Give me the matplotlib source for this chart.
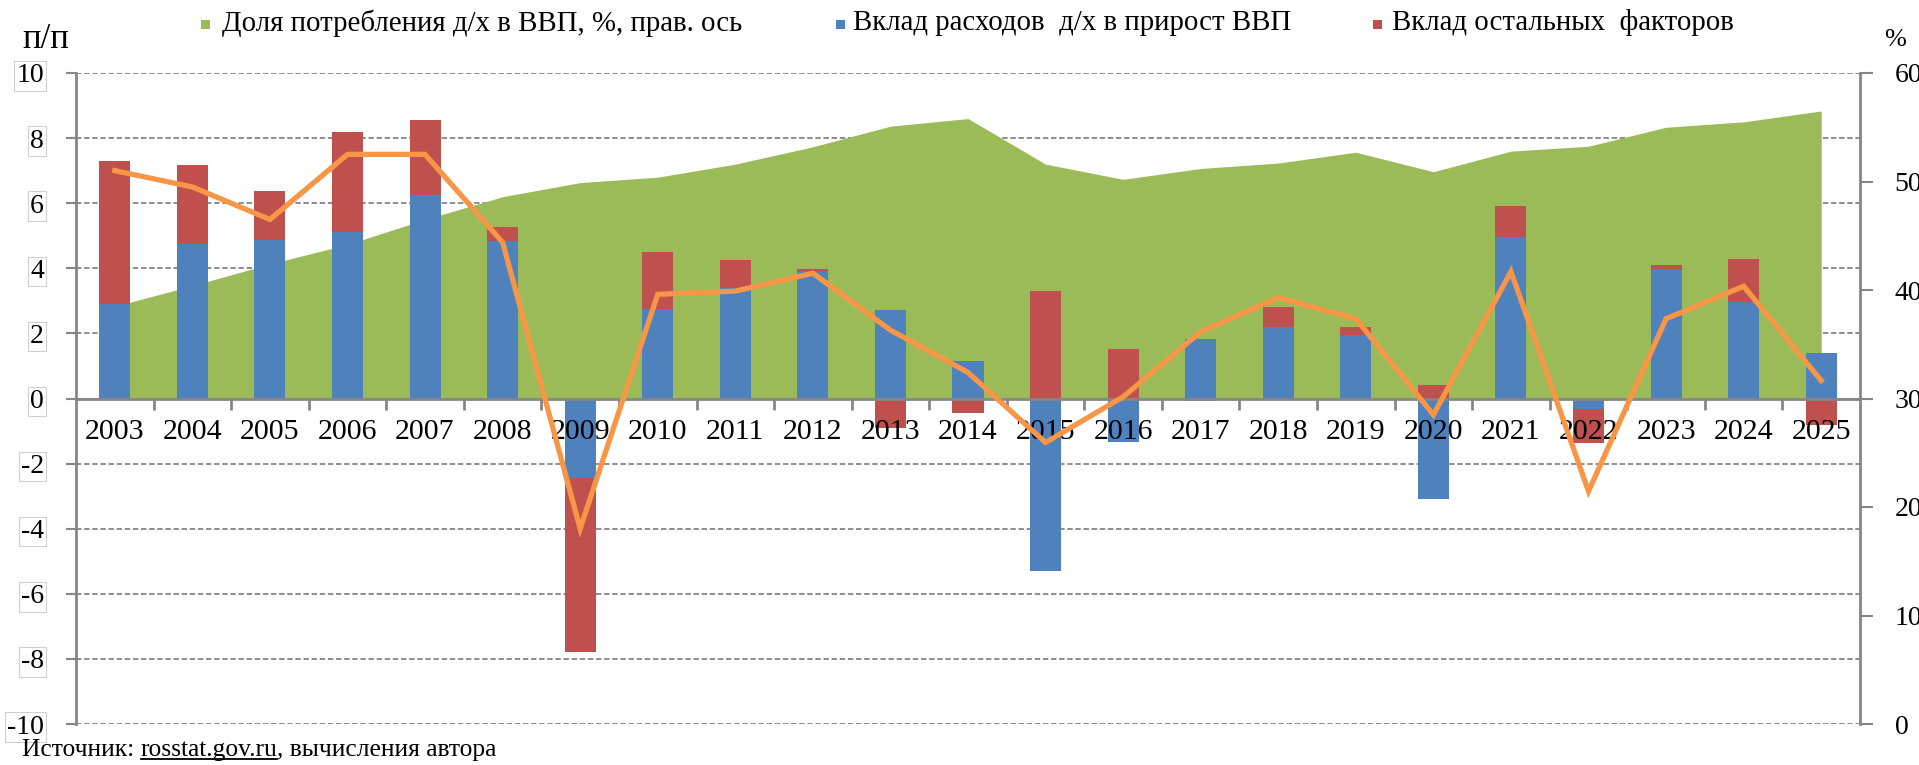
import matplotlib
matplotlib.use('Agg')
import matplotlib.pyplot as plt
import numpy as np
from matplotlib.patches import Rectangle
from matplotlib.transforms import blended_transform_factory
from matplotlib.lines import Line2D

# ---------------- data ----------------
years = [str(y) for y in range(2003, 2026)]
hh_share = [38.5, 40.4, 42.4, 44.2, 46.5, 48.6, 49.9, 50.4, 51.6, 53.2, 55.1, 55.8,
            51.6, 50.2, 51.2, 51.7, 52.7, 50.9, 52.8, 53.25, 55.0, 55.5, 56.5]
hh_contrib = [2.9, 4.75, 4.88, 5.13, 6.25, 4.85, -2.45, 2.74, 3.41, 3.93, 2.71, 1.15,
              -5.3, -1.35, 1.84, 2.2, 1.96, -3.1, 4.97, -0.32, 3.99, 2.97, 1.4]
other_contrib = [4.4, 2.43, 1.5, 3.05, 2.31, 0.43, -5.35, 1.76, 0.86, 0.06, -0.9, -0.45,
                 3.31, 1.53, -0.08, 0.6, 0.24, 0.41, 0.93, -1.06, 0.12, 1.33, -0.8]
line_vals = [7.0, 6.5, 5.5, 7.5, 7.5, 4.8, -4.0, 3.2, 3.3, 3.85, 2.1, 0.8,
             -1.35, 0.05, 2.05, 3.1, 2.45, -0.5, 3.9, -2.85, 2.45, 3.45, 0.55]

legend_labels = ['Доля потребления д/х в ВВП, %, прав. ось',
                 'Вклад расходов  д/х в прирост ВВП',
                 'Вклад остальных  факторов']

GREEN = '#9BBB59'
BLUE = '#4F81BD'
RED = '#C0504D'
ORANGE = '#F79646'
GRAY = '#868686'

plt.rcParams['font.family'] = ['Liberation Serif', 'DejaVu Serif']
plt.rcParams['axes.unicode_minus'] = False

W, H = 1919, 765
fig = plt.figure(figsize=(W / 100, H / 100), dpi=100)
ax = fig.add_axes([76 / W, 1 - 724 / H, (1860 - 76) / W, (724 - 73) / H])
ax2 = ax.twinx()

x = np.arange(len(years))
ax.set_xlim(-0.5, len(years) - 0.5)
ax.set_ylim(-10, 10)
ax2.set_ylim(0, 60)

# gridlines (behind everything)
ax.set_axisbelow(True)
ax.set_yticks(np.arange(-10, 11, 2))
ax.yaxis.grid(True, color=GRAY, linestyle=(0, (3, 1.5)), linewidth=1.3)
ax.xaxis.grid(False)

# area on the secondary scale, drawn in the primary axes so bars stay on top
trans = blended_transform_factory(ax.transData, ax2.transData)
ax.fill_between(x, 30, hh_share, transform=trans, color=GREEN, linewidth=0, zorder=1)

# stacked bars
blue = np.array(hh_contrib)
red = np.array(other_contrib)
red_bottom = np.where(np.sign(red) == np.sign(blue), blue, 0)
bw = 0.4
ax.bar(x, blue, width=bw, color=BLUE, zorder=2)
ax.bar(x, red, width=bw, bottom=red_bottom, color=RED, zorder=2)

# line
ax.plot(x, line_vals, color=ORANGE, linewidth=3.8, zorder=4, solid_joinstyle='miter')

# spines
for s in ['top', 'right', 'left', 'bottom']:
    ax.spines[s].set_visible(False)
ax.spines['left'].set_visible(True)
ax.spines['left'].set_color(GRAY)
ax.spines['left'].set_linewidth(2)
ax.spines['bottom'].set_visible(True)
ax.spines['bottom'].set_position(('data', 0))
ax.spines['bottom'].set_color(GRAY)
ax.spines['bottom'].set_linewidth(2)
ax.spines['bottom'].set_zorder(3)

for s in ['top', 'left', 'bottom']:
    ax2.spines[s].set_visible(False)
ax2.spines['right'].set_color(GRAY)
ax2.spines['right'].set_linewidth(2)

# x ticks
ax.set_xticks(x)
ax.set_xticklabels(years)
ax.set_xticks(np.arange(0.5, len(years) - 1, 1), minor=True)
ax.tick_params(axis='x', which='major', length=0, pad=15, labelsize=21.5)
ax.tick_params(axis='x', which='minor', length=8, width=2, color=GRAY, direction='out')
ax.xaxis.set_zorder(3)

# y ticks
ax.tick_params(axis='y', length=7, width=1.5, color=GRAY, labelsize=20, pad=16)
for lbl in ax.get_yticklabels():
    lbl.set_bbox(dict(boxstyle='square,pad=0.08', fc='none', ec='#d0d0d0', lw=0.8))
ax2.set_yticks(np.arange(0, 61, 10))
ax2.tick_params(axis='y', length=9, width=1.5, color=GRAY, labelsize=20, pad=16)

# axis unit labels
fig.text(22 / W, 1 - 40 / H, 'п/п', fontsize=25, ha='left', va='center')
fig.text(1884 / W, 1 - 40 / H, '%', fontsize=19, ha='left', va='center')

# legend (manually placed entries)
leg_square_x = [201, 836, 1373]
leg_text_x = [222, 853, 1392]
leg_y = 23
sq = 9
for c, lab, sx, tx in zip((GREEN, BLUE, RED), legend_labels, leg_square_x, leg_text_x):
    fig.add_artist(Rectangle((sx / W, 1 - (leg_y + sq / 2 + 1) / H), sq / W, sq / H,
                             facecolor=c, edgecolor='none', transform=fig.transFigure))
    fig.text(tx / W, 1 - leg_y / H, lab, fontsize=20.8, ha='left', va='center')

# source note with underlined link
fs = 18.4
yb = 1 - 756 / H
t1 = fig.text(22 / W, yb, 'Источник: ', fontsize=fs, ha='left', va='baseline')
fig.canvas.draw()
r = fig.canvas.get_renderer()
e1 = t1.get_window_extent(r)
t2 = fig.text(e1.x1 / W, yb, 'rosstat.gov.ru', fontsize=fs, ha='left', va='baseline')
fig.canvas.draw()
e2 = t2.get_window_extent(r)
t3 = fig.text(e2.x1 / W, yb, ', вычисления автора', fontsize=fs, ha='left', va='baseline')
uy = yb - 2.5 / H
fig.add_artist(Line2D([e2.x0 / W, e2.x1 / W], [uy, uy], color='black', linewidth=1.3,
                      transform=fig.transFigure))

fig.savefig('out.png', dpi=100)
